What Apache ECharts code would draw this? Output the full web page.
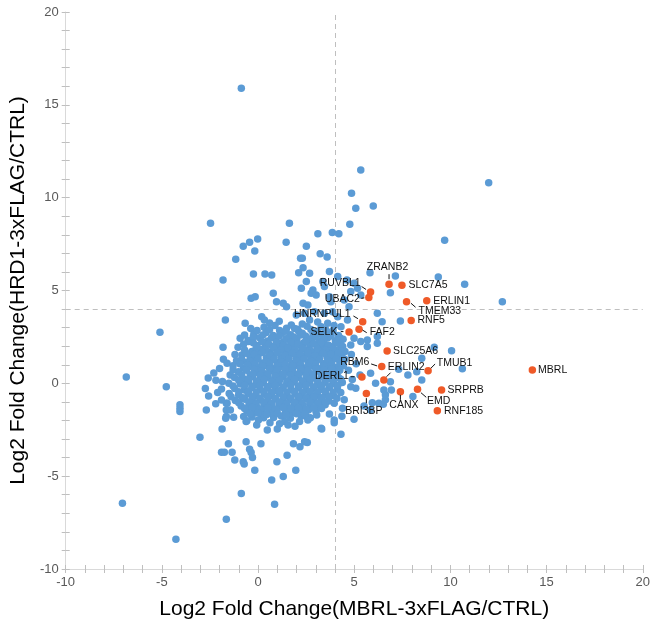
<!DOCTYPE html>
<html>
<head>
<meta charset="utf-8">
<script src="https://cdn.jsdelivr.net/npm/echarts@6.0.0/dist/echarts.min.js"></script>
<style>html,body{margin:0;padding:0;background:#fff}#chart{width:653px;height:631px}</style>
</head>
<body>
<div id="chart"></div>
<script>
// ---------- DATA ----------
const xTitle = 'Log2 Fold Change(MBRL-3xFLAG/CTRL)';
const yTitle = 'Log2 Fold Change(HRD1-3xFLAG/CTRL)';
const thresholdX = 4;
const thresholdY = 4;

const outlierPoints = [
[-0.87,15.89],[11.99,10.81],[5.34,11.49],[4.86,10.24],[5.08,9.43],[5.99,9.55],[4.77,8.57],[9.70,7.71],[12.70,4.39],[10.74,5.34],[9.37,5.73],
[-2.47,8.62],[1.63,8.62],[-0.02,7.78],[-0.44,7.60],[-0.77,7.38],[-0.17,7.13],[-1.16,6.68],[1.46,7.60],[2.21,6.74],
[-5.10,2.75],[-6.85,0.34],[-4.77,-0.18],[-4.06,-1.16],[-4.06,-1.34],[-4.06,-1.52],
[-7.05,-6.46],[-4.27,-8.40],[-3.02,-2.90],[-1.65,-7.32],[-0.87,-5.94],[0.86,-6.51],[0.71,-5.20],[1.31,-5.02],[1.96,-4.68],[-0.17,-4.68]
];

const upperPoints = [
[3.11,8.06],[3.86,8.12],[4.20,8.06],[2.51,7.38],[3.23,6.98],[3.59,6.81],[2.30,6.74],[2.34,6.23],[5.82,5.95],[7.14,5.78],[4.62,5.57],[6.88,4.88],
[0.36,5.89],[0.71,5.84],[-0.24,5.89],[2.11,5.95],[-1.82,5.57],
[-0.36,4.58],[-0.15,4.67],[0.79,4.85],[0.96,4.40],[1.31,4.31],[2.51,5.48],[2.76,4.85],[3.02,4.76],[3.37,5.48],[3.71,4.67],[1.48,4.13],[2.34,4.31],
[2.68,5.93],[3.71,6.02],[4.14,5.75],[4.99,5.39],[2.25,5.12],[2.85,5.03],[3.45,5.21],[4.82,4.94],[5.17,5.12],[5.34,4.76],[3.79,4.40],[4.48,4.49],[4.73,4.13],[2.59,4.22],[2.93,3.86],[3.45,3.77],
[6.20,3.77],[6.45,3.32],[7.40,3.36],[4.99,2.43],[5.34,2.25],[5.68,2.34],[6.20,2.52],
[10.06,1.76],[9.16,1.94],[10.62,0.78],[8.51,1.35]
];

const rightPoints = [
[4.05,2.25],[4.40,1.98],[4.82,2.07],[5.68,1.98],[6.20,2.16],[4.50,1.30],[4.85,1.55],[5.10,1.05],[4.70,0.70],[5.30,0.45],[4.90,0.20],
[5.85,0.54],[6.11,0.01],[6.88,0.09],[7.31,0.76],[7.79,0.45],[8.25,0.63],[8.51,0.18],[6.54,-0.36],[6.62,-0.89],[6.28,-1.07],[5.85,-1.43],
[4.39,-1.34],[3.96,-1.07],[4.99,-1.93],[5.94,-1.04],[6.51,-1.13],[5.51,-1.22],[6.62,-0.62],[6.93,-0.36],[8.05,-0.71],[4.48,-0.89],[4.82,-0.18],[5.08,-0.26]
];

const lowerPoints = [
[-2.59,0.29],[-2.19,0.17],[-2.74,-0.28],[-2.57,-0.68],[-2.69,-1.43],[-1.65,-1.07],[-1.65,-1.43],[-1.65,-1.79],[-1.61,-1.07],[-1.44,-1.43],[-0.75,-1.79],[-1.82,1.94],
[2.56,-3.19],[2.18,-3.42],[1.84,-3.26],[1.51,-3.87],[0.98,-4.23],[3.31,-2.46],[4.31,-2.74],[3.96,-2.12],[4.36,-1.77],[3.71,-1.65],[-1.87,-2.46],[-1.54,-3.26],
[-1.90,-3.71],[-1.75,-3.71],[-1.35,-3.71],[-1.21,-4.13],[-0.77,-4.22],[-0.72,-4.34],[-0.62,-3.14],[-0.44,-3.55],[-0.36,-3.73],[-0.29,-4.00],[0.15,-3.26],
[-0.62,-2.06],[-1.68,-1.88],[-1.27,-1.83],[3.28,-0.98],[2.68,-0.71],[2.51,-1.79],[3.96,-1.97],[3.28,-2.42],[2.42,-3.14],
[-2.00,0.80],[-1.85,0.10],[-2.10,-0.50],[-1.90,-0.90],[-2.30,0.55],[-1.80,1.30],[-2.20,-1.10],[-1.45,0.45],[-1.50,-0.55],[-1.90,-0.30]
];

const corePoints = [
[-0.67,3.24],[0.19,3.59],[0.33,3.41],[1.48,2.97],[1.73,3.14],[2.42,3.77],[1.99,3.68],[2.68,3.41],[3.28,3.05],[3.62,3.24],[3.88,3.86],[4.14,3.59],[-1.70,3.41],
[-0.38,2.95],[0.31,3.02],[0.88,3.12],[1.12,2.84],[2.05,2.91],[2.55,3.08],[2.98,2.77],[3.52,2.88],[3.95,3.12],[4.31,3.05],[4.65,3.41],
[-0.22,2.66],[0.42,2.74],[0.79,2.58],[1.24,2.71],[1.69,2.62],[2.12,2.79],[2.47,2.55],[2.86,2.68],[3.31,2.61],[3.74,2.72],[4.18,2.58],
[-0.93,2.43],[-0.52,2.31],[0.08,2.45],[0.51,2.28],[0.93,2.39],[1.31,2.22],[1.62,2.47],[2.02,2.33],[2.38,2.19],[2.81,2.41],[3.18,2.26],[3.61,2.44],[4.02,2.29],[4.42,2.37],
[-0.49,2.25],[-0.05,2.04],[0.37,2.12],[0.76,1.98],[1.12,2.14],[1.51,1.96],[1.88,2.08],[2.27,1.93],[2.69,2.06],[3.08,1.91],[3.47,2.11],[3.88,1.97],[4.28,2.09],
[-1.04,1.94],[-0.32,1.71],[0.18,1.82],[0.61,1.67],[0.98,1.85],[1.37,1.72],[1.74,1.88],[2.11,1.64],[2.53,1.79],[2.92,1.69],[3.29,1.84],[3.69,1.66],[4.08,1.78],[4.52,1.71],
[-0.84,1.53],[-0.41,1.42],[0.02,1.56],[0.43,1.38],[0.82,1.52],[1.19,1.41],[1.58,1.57],[1.97,1.36],[2.41,1.49],[2.78,1.37],[3.17,1.54],[3.58,1.43],[3.97,1.51],[4.37,1.39],
[-1.61,1.08],[-1.12,1.21],[-0.61,1.14],[-0.18,1.27],[0.22,1.09],[0.63,1.22],[1.02,1.11],[1.43,1.26],[1.79,1.07],[2.18,1.19],[2.61,1.12],[2.99,1.24],[3.41,1.06],[3.82,1.18],[4.26,1.13],
[-0.75,0.81],[-0.38,0.92],[0.04,0.84],[0.41,0.96],[0.79,0.79],[1.21,0.91],[1.62,0.83],[2.01,0.97],[2.39,0.82],[2.82,0.94],[3.21,0.78],[3.63,0.91],[4.02,0.86],[4.44,0.95],
[-1.02,0.62],[-0.41,0.45],[-0.08,0.58],[0.31,0.51],[0.72,0.66],[1.09,0.49],[1.52,0.61],[1.91,0.47],[2.29,0.63],[2.71,0.52],[3.11,0.67],[3.52,0.48],[3.93,0.59],
[-1.22,0.31],[-0.72,0.22],[-0.29,0.36],[0.12,0.24],[0.53,0.33],[0.91,0.19],[1.31,0.35],[1.68,0.21],[2.09,0.32],[2.52,0.18],[2.91,0.29],[3.31,0.37],[3.72,0.23],[4.18,0.31],
[-1.52,0.00],[-0.91,-0.04],[-0.49,0.07],[-0.12,-0.06],[0.28,0.05],[0.69,-0.08],[1.08,0.04],[1.49,-0.03],[1.88,0.08],[2.31,-0.05],[2.69,0.03],[3.09,-0.07],[3.48,0.06],[3.91,-0.02],[4.38,0.04],
[-1.21,-0.28],[-0.71,-0.36],[-0.32,-0.22],[0.09,-0.34],[0.48,-0.25],[0.88,-0.38],[1.29,-0.27],[1.71,-0.35],[2.12,-0.24],[2.49,-0.37],[2.88,-0.26],[3.29,-0.33],[3.71,-0.21],[4.12,-0.31],
[-1.01,-0.63],[-0.52,-0.55],[-0.11,-0.68],[0.32,-0.57],[0.71,-0.66],[1.12,-0.54],[1.51,-0.67],[1.92,-0.58],[2.28,-0.69],[2.72,-0.56],[3.08,-0.64],[3.51,-0.59],[3.92,-0.66],
[-1.18,-0.93],[-0.68,-0.86],[-0.29,-0.97],[0.12,-0.88],[0.52,-0.95],[0.91,-0.84],[1.32,-0.96],[1.69,-0.87],[2.11,-0.94],[2.52,-0.83],[2.91,-0.91],[3.33,-0.86],[3.68,-0.95],
[-0.88,-1.22],[-0.47,-1.14],[-0.08,-1.26],[0.31,-1.17],[0.69,-1.24],[1.09,-1.12],[1.52,-1.25],[1.89,-1.16],[2.31,-1.23],[2.69,-1.13],[3.12,-1.21],[3.49,-1.15],
[-0.58,-1.48],[-0.19,-1.56],[0.21,-1.45],[0.62,-1.53],[0.99,-1.44],[1.42,-1.57],[1.81,-1.47],[2.19,-1.55],[2.62,-1.43],[3.01,-1.52],
[-0.31,-1.81],[0.19,-1.70],[0.71,-1.61],[0.29,-1.86],[0.81,-1.84],[1.21,-1.76],[1.73,-1.61],[1.68,-1.88],[2.25,-1.76],[2.72,-1.85],
[0.02,-1.97],[-0.07,-2.24],[0.48,-2.51],[1.00,-2.46],[1.39,-2.06],[1.56,-2.24],[2.16,-2.06],[2.59,-1.97],[-0.58,-2.01],[0.62,-2.12],[1.12,-2.18],[1.92,-2.31]
];

const coreFillPoints = [
[0.60,3.25],[1.10,3.35],[2.30,3.20],[3.10,3.30],
[-0.05,2.85],[0.60,2.90],[1.45,2.80],[1.90,2.95],[2.30,2.70],[2.75,2.90],[3.10,2.80],[3.55,2.62],[3.90,2.85],
[-0.70,2.60],[-0.25,2.50],[0.25,2.60],[0.70,2.45],[1.10,2.55],[1.45,2.40],[1.85,2.50],[2.20,2.60],[2.60,2.40],[3.00,2.50],[3.40,2.40],[3.80,2.55],[4.25,2.45],
[-0.75,2.10],[-0.25,2.18],[0.20,2.25],[0.55,2.10],[0.95,2.20],[1.32,2.05],[1.70,2.20],[2.08,2.10],[2.48,2.25],[2.88,2.12],[3.28,2.20],[3.67,2.05],[4.10,2.18],
[-0.70,1.80],[-0.10,1.90],[0.40,1.78],[0.80,1.92],[1.18,1.80],[1.55,1.92],[1.93,1.78],[2.32,1.87],[2.72,1.75],[3.10,1.82],[3.50,1.78],[3.90,1.88],[4.30,1.75],
[-1.20,1.55],[-0.62,1.62],[-0.20,1.55],[0.22,1.66],[0.62,1.50],[1.00,1.65],[1.40,1.50],[1.78,1.62],[2.20,1.55],[2.60,1.64],[2.98,1.48],[3.38,1.62],[3.78,1.55],[4.18,1.62],
[-0.85,1.30],[-0.40,1.20],[0.00,1.32],[0.42,1.18],[0.83,1.30],[1.22,1.15],[1.60,1.32],[2.00,1.20],[2.40,1.32],[2.80,1.18],[3.20,1.30],[3.62,1.25],[4.05,1.32],[4.45,1.20],
[-1.30,0.95],[-0.95,1.05],[-0.55,0.98],[-0.15,1.05],[0.25,0.95],[0.62,1.05],[1.00,0.95],[1.42,1.02],[1.82,0.93],[2.20,1.03],[2.60,0.95],[3.00,1.05],[3.42,0.95],[3.82,1.02],[4.22,0.92],
[-1.30,0.72],[-0.60,0.70],[-0.20,0.75],[0.20,0.68],[0.60,0.78],[1.00,0.70],[1.40,0.76],[1.80,0.68],[2.20,0.78],[2.60,0.70],[3.00,0.78],[3.42,0.70],[3.82,0.76],[4.25,0.70],
[-0.85,0.45],[-0.25,0.50],[0.12,0.42],[0.50,0.50],[0.90,0.40],[1.30,0.50],[1.70,0.42],[2.10,0.50],[2.50,0.40],[2.90,0.50],[3.30,0.42],[3.70,0.50],[4.10,0.44],
[-1.00,0.15],[-0.50,0.20],[-0.08,0.12],[0.32,0.20],[0.72,0.10],[1.12,0.18],[1.50,0.10],[1.90,0.20],[2.30,0.12],[2.70,0.20],[3.10,0.12],[3.50,0.20],[3.92,0.15],[4.30,0.22],
[-1.30,-0.15],[-0.70,-0.12],[-0.30,-0.18],[0.10,-0.10],[0.50,-0.18],[0.90,-0.12],[1.30,-0.20],[1.70,-0.10],[2.10,-0.15],[2.50,-0.10],[2.90,-0.20],[3.30,-0.12],[3.70,-0.18],[4.15,-0.10],
[-1.00,-0.45],[-0.50,-0.42],[-0.10,-0.50],[0.30,-0.42],[0.70,-0.50],[1.10,-0.40],[1.50,-0.48],[1.90,-0.42],[2.30,-0.50],[2.70,-0.42],[3.10,-0.48],[3.50,-0.42],[3.90,-0.48],[4.30,-0.50],
[-1.40,-0.72],[-0.80,-0.78],[-0.30,-0.72],[0.10,-0.80],[0.50,-0.72],[0.90,-0.80],[1.30,-0.74],[1.70,-0.80],[2.10,-0.72],[2.50,-0.78],[2.90,-0.72],[3.30,-0.78],[3.70,-0.72],[4.10,-0.80],
[-1.00,-1.05],[-0.45,-1.00],[-0.10,-1.08],[0.30,-1.02],[0.70,-1.08],[1.10,-1.00],[1.50,-1.08],[1.90,-1.02],[2.30,-1.08],[2.70,-1.00],[3.10,-1.06],[3.50,-1.00],
[-0.70,-1.35],[-0.30,-1.30],[0.10,-1.38],[0.50,-1.32],[0.90,-1.38],[1.30,-1.30],[1.70,-1.36],[2.10,-1.32],[2.50,-1.38],[2.90,-1.32],[3.30,-1.36],
[-0.40,-1.65],[0.00,-1.60],[0.45,-1.68],[1.00,-1.62],[1.45,-1.70],[2.00,-1.64],[2.45,-1.66],[3.05,-1.70]
];

const hitNames = ['ZRANB2','SLC7A5','RUVBL1','UBAC2','ERLIN1','TMEM33','RNF5','HNRNPUL1','SELK','FAF2','SLC25A6','RBM6','ERLIN2','DERL1','TMUB1','BRI3BP','CANX','EMD','SRPRB','RNF185','MBRL'];
const hitX = [6.81,7.48,5.85,5.76,8.77,7.72,7.96,5.44,4.73,5.25,6.71,6.43,6.54,5.40,8.84,5.63,7.40,8.29,9.54,9.32,14.26];
const hitY = [5.34,5.28,4.92,4.62,4.45,4.40,3.38,3.32,2.77,2.91,1.74,0.90,0.18,0.34,0.68,-0.55,-0.46,-0.32,-0.36,-1.47,0.72];

// ---------- STYLE (label placement, px offsets from each point) ----------
const labelStyle = {
  ZRANB2:  {dx:-1.5, dy:-17.5, align:'center', line:[0,-10,0,-5]},
  SLC7A5:  {dx:6.5,  dy:0,     align:'left'},
  RUVBL1:  {dx:-10,  dy:-8.5,  align:'right',  line:[-9,-5.5,-4.5,-2.5]},
  UBAC2:   {dx:-9,   dy:2,     align:'right',  line:[-7.5,0.8,-4.5,0.3]},
  ERLIN1:  {dx:6.5,  dy:0.3,   align:'left'},
  TMEM33:  {dx:12,   dy:9.3,   align:'left',   line:[4.4,1.6,9,5.6]},
  RNF5:    {dx:6.3,  dy:0,     align:'left'},
  HNRNPUL1:{dx:-12,  dy:-7.4,  align:'right',  line:[-9.3,-5.7,-4.7,-3]},
  SELK:    {dx:-11.6,dy:0.6,   align:'right',  line:[-8.3,-0.3,-5.6,-0.3]},
  FAF2:    {dx:10.7, dy:3,     align:'left',   line:[3.4,0.7,7.7,3.4]},
  SLC25A6: {dx:6,    dy:0,     align:'left'},
  RBM6:    {dx:-12.3,dy:-4.4,  align:'right',  line:[-10.6,-2.7,-4.6,-0.7]},
  ERLIN2:  {dx:4,    dy:-13.3, align:'left',   line:[2.7,-3.3,6.7,-7.3]},
  DERL1:   {dx:-13,  dy:-1.3,  align:'right',  line:[-11.3,-0.3,-7.3,-0.3]},
  TMUB1:   {dx:8.7,  dy:-7.4,  align:'left',   line:[2.7,-2.4,7,-6.7]},
  BRI3BP:  {dx:-2.4, dy:18,    align:'center', line:[0,4.6,0,9.6]},
  CANX:    {dx:3.5,  dy:13.3,  align:'center', line:[0,3,0,8]},
  EMD:     {dx:9.4,  dy:11.4,  align:'left',   line:[3.4,3.4,8.7,8]},
  SRPRB:   {dx:6,    dy:0,     align:'left'},
  RNF185:  {dx:6.7,  dy:0,     align:'left'},
  MBRL:    {dx:5.7,  dy:0,     align:'left'}
};

const FONT = 'Arial, "Liberation Sans", sans-serif';
const blue = '#5b9bd5';
const orange = '#ef5a28';

const bluePoints = [].concat(outlierPoints, upperPoints, rightPoints, lowerPoints, corePoints, coreFillPoints);
const hits = hitNames.map((n, i) => [hitX[i], hitY[i], n]);

const chart = echarts.init(document.getElementById('chart'), null, {renderer: 'canvas'});

function mainAxis(extra) {
  return Object.assign({
    type: 'value', min: -10, max: 20, interval: 1,
    axisLine: {show: true, onZero: false, lineStyle: {color: '#d9d9d9', width: 1}},
    axisTick: {show: true, inside: false, length: 4, lineStyle: {color: '#bfbfbf'}},
    axisLabel: {show: true, color: '#595959', fontSize: 13, fontFamily: FONT, margin: 7,
      formatter: v => (v % 5 === 0 ? String(v) : '')},
    splitLine: {show: false},
    nameLocation: 'middle',
    nameTextStyle: {color: '#000', fontSize: 21, fontFamily: FONT}
  }, extra);
}
function tickAxis(extra) {
  return Object.assign({
    type: 'value', min: -10, max: 20, interval: 1,
    axisLine: {show: false, onZero: false},
    axisTick: {show: true, inside: true, length: 4, lineStyle: {color: '#bfbfbf'}},
    axisLabel: {show: false},
    splitLine: {show: false}
  }, extra);
}

chart.setOption({
  animation: false,
  backgroundColor: '#fff',
  grid: {left: 62, right: 8, top: 12, bottom: 62, containLabel: false},
  xAxis: [
    mainAxis({position: 'bottom', name: xTitle, nameGap: 30}),
    tickAxis({position: 'bottom'})
  ],
  yAxis: [
    mainAxis({position: 'left', name: yTitle, nameGap: 34}),
    tickAxis({position: 'left'})
  ],
  series: [
    {
      type: 'scatter', name: 'all', data: bluePoints, symbol: 'circle', symbolSize: 7.5,
      itemStyle: {color: blue, opacity: 1},
      silent: true, z: 2, large: false,
      markLine: {
        silent: true, symbol: 'none', z: 1,
        label: {show: false},
        lineStyle: {color: '#bfbfbf', type: [5, 4], width: 1},
        data: [{xAxis: thresholdX}, {yAxis: thresholdY}]
      }
    },
    {
      type: 'scatter', name: 'hits', data: hits, symbol: 'circle', symbolSize: 7.5,
      itemStyle: {color: orange, opacity: 1}, silent: true, z: 3
    },
    {
      type: 'custom', name: 'labels', data: hits, silent: true, z: 4, clip: false,
      renderItem: function (params, api) {
        const p = api.coord([api.value(0), api.value(1)]);
        const name = hitNames[params.dataIndex];
        const c = labelStyle[name];
        const children = [{
          type: 'text', x: p[0] + c.dx, y: p[1] + c.dy,
          style: {text: name, fill: '#111', fontSize: 10.5, fontFamily: FONT, align: c.align, verticalAlign: 'middle'}
        }];
        if (c.line) {
          children.push({
            type: 'line',
            shape: {x1: p[0] + c.line[0], y1: p[1] + c.line[1], x2: p[0] + c.line[2], y2: p[1] + c.line[3]},
            style: {stroke: '#111', lineWidth: 1}
          });
        }
        return {type: 'group', children: children};
      }
    }
  ]
});
</script>
</body>
</html>
